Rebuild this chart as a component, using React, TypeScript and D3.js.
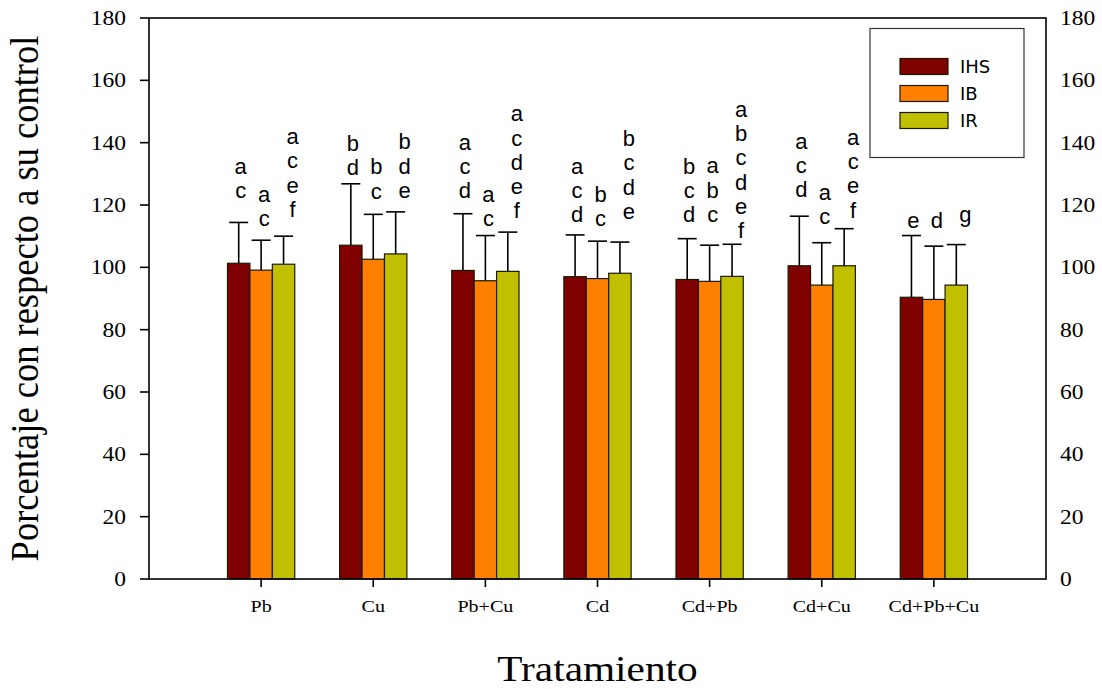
import React from "react";
import * as d3 from "d3";

// Treatments and series
const categories = ["Pb", "Cu", "Pb+Cu", "Cd", "Cd+Pb", "Cd+Cu", "Cd+Pb+Cu"];
const seriesNames = ["IHS", "IB", "IR"];
const seriesColors = ["#800000", "#FF8000", "#C0C000"];

// Mean percentage relative to control
const ihsValues = [101.3, 107.1, 99.0, 97.0, 96.1, 100.5, 90.4];
const ibValues = [99.1, 102.6, 95.7, 96.4, 95.5, 94.3, 89.7];
const irValues = [101.0, 104.3, 98.7, 98.1, 97.1, 100.5, 94.3];

// Upper end of the error bars (mean + SD)
const ihsErrTop = [114.4, 126.8, 117.2, 110.4, 109.2, 116.4, 110.2];
const ibErrTop = [108.7, 117.0, 110.2, 108.4, 107.1, 107.9, 106.8];
const irErrTop = [110.0, 117.8, 111.3, 108.1, 107.4, 112.4, 107.3];

// Significance letters, listed top to bottom
const ihsLetters = [["a", "c"], ["b", "d"], ["a", "c", "d"], ["a", "c", "d"], ["b", "c", "d"], ["a", "c", "d"], ["e"]];
const ibLetters = [["a", "c"], ["b", "c"], ["a", "c"], ["b", "c"], ["a", "b", "c"], ["a", "c"], ["d"]];
const irLetters = [["a", "c", "e", "f"], ["b", "d", "e"], ["a", "c", "d", "e", "f"], ["b", "c", "d", "e"], ["a", "b", "c", "d", "e", "f"], ["a", "c", "e", "f"], ["g"]];

// Value (axis units) at which the lowest letter of each stack sits
const ihsLetterBase = [122.1, 129.6, 122.1, 114.4, 114.4, 122.5, 112.7];
const ibLetterBase = [113.3, 122.0, 113.2, 113.2, 114.6, 113.8, 112.5];
const irLetterBase = [116.2, 122.3, 115.7, 115.5, 109.3, 115.9, 114.5];

const yTicks = [0, 20, 40, 60, 80, 100, 120, 140, 160, 180];

const W = 1102;
const H = 689;
const left = 149;
const right = 1046;
const top = 18;
const bottom = 579;

const serif = "'Liberation Serif', 'Times New Roman', 'DejaVu Serif', serif";
const sans = "'Liberation Sans', Arial, sans-serif";

function SText(props: {
  x: number;
  y: number;
  sx?: number;
  size: number;
  family: string;
  anchor?: string;
  children: React.ReactNode;
}) {
  const { x, y, sx = 1, size, family, anchor = "start", children } = props;
  return (
    <text
      transform={`translate(${x},${y}) scale(${sx},1)`}
      textAnchor={anchor}
      fill="#000"
      style={{ fontFamily: family, fontSize: `${size}px` }}
    >
      {children}
    </text>
  );
}

export default function App() {
  const x = d3.scaleLinear().domain([0, categories.length + 1]).range([left, right]);
  const y = d3.scaleLinear().domain([0, 180]).range([bottom, top]);

  const values = [ihsValues, ibValues, irValues];
  const errTops = [ihsErrTop, ibErrTop, irErrTop];
  const letters = [ihsLetters, ibLetters, irLetters];
  const letterBase = [ihsLetterBase, ibLetterBase, irLetterBase];
  const barW = 0.2; // in category units
  const letterNudge = [2, 3, 9];
  const letterStep = 24.3;
  const capHalf = 9.5;

  return (
    <svg width={W} height={H} style={{ position: "absolute", left: 0, top: 0 }}>
      <rect width={W} height={H} fill="#fff" />

      {/* bars */}
      {categories.map((c, i) =>
        values.map((vals, s) => {
          const x0 = x(i + 1 - 0.3 + s * barW);
          const x1 = x(i + 1 - 0.3 + (s + 1) * barW);
          return (
            <rect
              key={`b-${c}-${s}`}
              x={x0}
              y={y(vals[i])}
              width={x1 - x0}
              height={y(0) - y(vals[i])}
              fill={seriesColors[s]}
              stroke="#1a1a00"
              strokeWidth={1.2}
            />
          );
        })
      )}

      {/* error bars */}
      {categories.map((c, i) =>
        values.map((vals, s) => {
          const cx = x(i + 1 - 0.3 + (s + 0.5) * barW);
          const yt = y(errTops[s][i]);
          return (
            <g key={`e-${c}-${s}`} stroke="#000" strokeWidth={1.6}>
              <line x1={cx} x2={cx} y1={y(vals[i])} y2={yt} />
              <line x1={cx - capHalf} x2={cx + capHalf} y1={yt} y2={yt} />
            </g>
          );
        })
      )}

      {/* significance letters */}
      {categories.map((c, i) =>
        letters.map((ls, s) => {
          const cx = x(i + 1 - 0.3 + (s + 0.5) * barW) + letterNudge[s];
          const base = y(letterBase[s][i]);
          const stack = ls[i];
          return stack.map((l, k) => (
            <SText
              key={`l-${c}-${s}-${k}`}
              x={cx}
              y={base - (stack.length - 1 - k) * letterStep}
              size={22}
              family={sans}
              anchor="middle"
            >
              {l}
            </SText>
          ));
        })
      )}

      {/* frame */}
      <rect x={left} y={top} width={right - left} height={bottom - top} fill="none" stroke="#000" strokeWidth={1.6} />

      {/* y axis ticks and labels (both sides) */}
      {yTicks.map((t) => (
        <g key={`yt-${t}`}>
          <line x1={left - 9} x2={left} y1={y(t)} y2={y(t)} stroke="#000" strokeWidth={1.6} />
          <SText x={126} y={y(t) + 7} sx={1.12} size={21} family={serif} anchor="end">
            {t}
          </SText>
          <SText x={1060} y={y(t) + 7} sx={1.12} size={21} family={serif} anchor="start">
            {t}
          </SText>
        </g>
      ))}

      {/* x axis ticks and labels */}
      {categories.map((c, i) => (
        <g key={`xt-${c}`}>
          <line x1={x(i + 1)} x2={x(i + 1)} y1={bottom} y2={bottom + 8} stroke="#000" strokeWidth={1.6} />
          <SText x={x(i + 1)} y={612} sx={1.18} size={17} family={serif} anchor="middle">
            {c}
          </SText>
        </g>
      ))}

      {/* axis titles */}
      <SText x={(left + right) / 2} y={681} sx={1.18} size={35} family={serif} anchor="middle">
        Tratamiento
      </SText>
      <text
        transform={`translate(38,${(top + bottom) / 2}) rotate(-90) scale(1,1.08)`}
        textAnchor="middle"
        fill="#000"
        style={{ fontFamily: serif, fontSize: "36.5px" }}
      >
        Porcentaje con respecto a su control
      </text>

      {/* legend */}
      <rect x={870} y={28.5} width={154} height={129} fill="#fff" stroke="#333" strokeWidth={1.2} />
      {seriesNames.map((n, s) => (
        <g key={`lg-${n}`}>
          <rect x={900} y={58.5 + s * 27} width={48} height={16} fill={seriesColors[s]} stroke="#1a1a00" strokeWidth={1.2} />
          <text
            x={960}
            y={73 + s * 27}
            fill="#000"
            style={{ fontFamily: "'DejaVu Sans', Verdana, sans-serif", fontSize: "18px" }}
          >
            {n}
          </text>
        </g>
      ))}
    </svg>
  );
}
